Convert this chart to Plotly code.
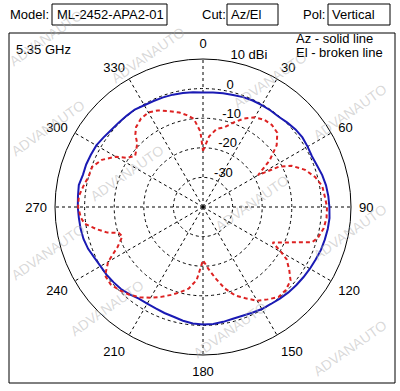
import plotly.graph_objects as go

# ---- data ----
az_theta = list(range(0, 360, 5)) + [360]
az_db = [-1.3, -1.2, -1.0, -0.8, -0.5, -0.3, -0.3, -0.2, -0.2, 0.3, 0.8, 1.0,
         0.8, 0.6, 1.0, 1.7, 2.2, 2.5, 2.7, 2.9, 2.8, 2.6, 2.4, 2.0,
         1.7, 1.4, 1.1, 0.8, 0.4, 0.0, -0.2, -0.6, -0.9, -0.9, -0.6, -0.3,
         -0.3, -0.5, -1.0, -1.6, -1.9, -2.2, -2.3, -2.2, -1.5, -0.8, -0.5, -0.2,
         0.0, 0.5, 1.3, 1.8, 2.0, 2.1, 2.3, 2.4, 2.6, 2.0, 2.0, 1.8,
         1.6, 1.0, 0.5, 0.3, 0.2, 0.2, -0.3, -0.5, -0.6, -0.7, -0.9, -1.1, -1.3]

el_theta = [0, 5, 10, 15, 20, 25, 30, 35, 40, 45, 50, 55, 60, 62, 65, 70, 75, 80, 85, 90,
            95, 100, 105, 108, 110, 113, 117, 120, 122, 126, 130, 135, 140, 145, 150, 155,
            160, 165, 170, 175, 180, 185, 190, 195, 200, 205, 210, 215, 220, 225, 230, 235,
            240, 245, 250, 253, 255, 258, 262, 265, 270, 275, 280, 285, 290, 295, 300, 303,
            307, 310, 314, 317, 320, 325, 330, 335, 340, 346, 350, 354, 358, 360]
el_db = [-21.0, -16.0, -13.2, -12.1, -9.6, -7.0, -5.0, -4.0, -3.8, -4.5, -7.5, -12.5, -18.5, -11.0,
         -7.0, -3.3, -0.8, 0.9, 1.3, 1.9,
         1.9, 1.4, 0.2, -1.3, -5.3, -9.3, -13.6, -9.5, -6.7, -4.0, -1.4, -0.4, -0.3, -1.9, -3.4, -6.0,
         -8.2, -11.5, -15.5, -19.0, -22.0, -15.2, -12.0, -10.2, -8.4, -6.5, -4.6, -2.8, -1.3, -0.2, 0.7, 0.4,
         -3.0, -8.2, -11.0, -10.2, -6.6, -3.5, 0.4, 1.4, 2.2, 2.1, 1.0, 0.0, -0.2, -2.3, -6.0, -9.5,
         -11.3, -10.5, -9.1, -6.5, -4.8, -3.5, -3.1, -4.0, -5.5, -7.1, -8.5, -10.0, -14.5, -21.0]

angle_ticks = list(range(0, 360, 30))
radial_ticks = [-30, -20, -10, 0, 10]
radial_labels = ["-30", "-20", "-10", "0", "10 dBi"]

W, H = 400, 391
FONT = "Liberation Sans, Arial, sans-serif"


def px(x):
    return x / W


def py(y):
    return 1 - y / H


fig = go.Figure()
fig.add_trace(go.Scatterpolar(r=az_db, theta=az_theta, mode="lines",
                              line=dict(color="#1a1ab4", width=2), showlegend=False))
fig.add_trace(go.Scatterpolar(r=el_db, theta=el_theta, mode="lines",
                              line=dict(color="#dd2222", width=2, dash="4px,3px"), showlegend=False))

cx, cy, R = 203, 207, 148
RAD_ANGLE = 82
fig.update_layout(
    width=W, height=H,
    margin=dict(l=0, r=0, t=0, b=0),
    paper_bgcolor="white",
    font=dict(family=FONT, size=13, color="black"),
    polar=dict(
        domain=dict(x=[px(cx - R), px(cx + R)], y=[py(cy + R), py(cy - R)]),
        bgcolor="white",
        angularaxis=dict(direction="clockwise", rotation=90, tickvals=angle_ticks,
                         ticktext=[str(a) for a in angle_ticks],
                         ticks="outside", ticklen=5, tickcolor="rgba(0,0,0,0)",
                         showline=True, linecolor="black", linewidth=1,
                         gridcolor="black", gridwidth=1, griddash="3px,3px",
                         tickfont=dict(size=13, family=FONT)),
        radialaxis=dict(range=[-40, 10], tickvals=radial_ticks,
                        ticktext=[t + "<br>\u00a0" for t in radial_labels],
                        angle=RAD_ANGLE, tickangle=RAD_ANGLE, side="clockwise",
                        showline=False, ticks="",
                        gridcolor="black", gridwidth=1, griddash="3px,3px",
                        tickfont=dict(size=13, family=FONT)),
    ),
)

shapes = [
    dict(type="rect", xref="paper", yref="paper", x0=px(9), x1=px(395), y0=py(383), y1=py(33),
         line=dict(color="black", width=1)),
    dict(type="rect", xref="paper", yref="paper", x0=px(52), x1=px(167), y0=py(25), y1=py(4),
         line=dict(color="black", width=1)),
    dict(type="rect", xref="paper", yref="paper", x0=px(227), x1=px(278), y0=py(25), y1=py(4),
         line=dict(color="black", width=1)),
    dict(type="rect", xref="paper", yref="paper", x0=px(328), x1=px(390), y0=py(25), y1=py(4),
         line=dict(color="black", width=1)),
]
fig.update_layout(shapes=shapes)

texts = [
    ("Model:", 8, 15), ("ML-2452-APA2-01", 55, 15),
    ("Cut:", 200, 15), ("Az/El", 229, 15),
    ("Pol:", 301, 15), ("Vertical", 330, 15),
    ("5.35 GHz", 14, 49),
    ("Az - solid line", 294, 38), ("El - broken line", 294, 52),
]
ann = []
for t, x, y in texts:
    ann.append(dict(text=t, x=px(x), y=py(y), xref="paper", yref="paper", xanchor="left",
                    yanchor="middle", showarrow=False, font=dict(size=13, family=FONT)))

marks = [(46, 38), (148, 55), (270, 80), (350, 112), (48, 128), (127, 173), (252, 203),
         (350, 232), (48, 252), (107, 308), (230, 330), (350, 348)]
for x, y in marks:
    ann.append(dict(text="ADVANAUTO", x=px(x), y=py(y), xref="paper", yref="paper",
                    xanchor="center", yanchor="middle", showarrow=False, textangle=-35,
                    font=dict(size=14, family=FONT, color="rgba(170,170,170,0.45)")))
fig.update_layout(annotations=ann)

fig.write_html("out.html", config={"displayModeBar": False},
               post_script="document.body.style.margin='0';document.body.style.overflow='hidden';")
